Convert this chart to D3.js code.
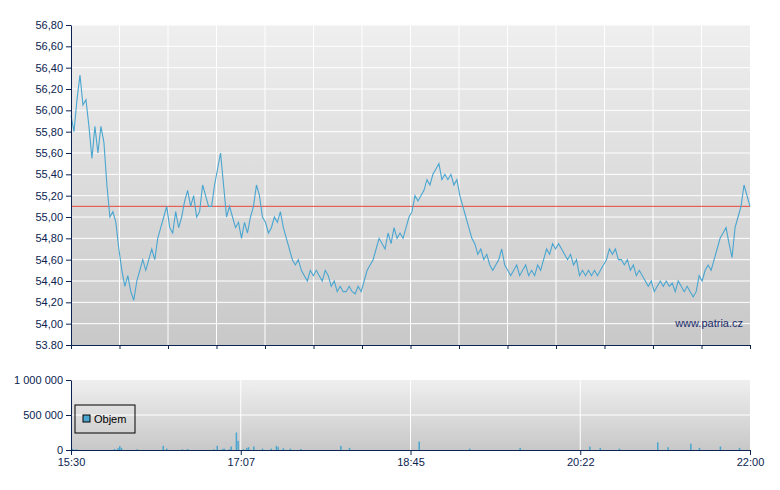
<!DOCTYPE html>
<html><head><meta charset="utf-8">
<script src="https://cdn.jsdelivr.net/npm/d3@7"></script>
<style>body{margin:0;background:#fff}svg{font-family:"Liberation Sans",Arial,sans-serif;font-size:11px}</style>
</head><body><div id="chart"></div>
<script>
// price samples, evenly spaced 15:30 -> 22:00
const prices = [55.95,55.8,56.1,56.33,56.05,56.1,55.85,55.55,55.85,55.6,55.85,55.7,55.3,
55.0,55.05,54.95,54.7,54.5,54.35,54.45,54.3,54.22,54.4,54.5,54.6,54.5,54.6,54.7,54.6,54.8,54.9,55.0,55.1,54.9,54.85,55.05,54.9,55.0,55.15,55.25,55.1,55.2,55.0,55.05,55.3,55.2,55.1,55.1,55.3,55.45,55.6,55.3,55.0,55.1,55.0,54.9,54.95,54.8,54.95,54.85,55.0,55.1,55.3,55.2,55.0,54.95,54.85,54.9,55.0,54.95,55.05,54.9,54.8,54.7,54.6,54.55,54.6,54.5,54.45,54.4,54.5,54.45,54.5,54.45,54.4,54.5,54.45,54.35,54.4,54.3,54.35,54.3,54.3,54.35,54.3,54.28,54.35,54.3,54.4,54.5,54.55,54.6,54.7,54.8,54.75,54.7,54.85,54.75,54.9,54.8,54.85,54.8,54.9,55.0,55.05,55.2,55.15,55.2,55.25,55.35,55.3,55.4,55.45,55.5,55.35,55.4,55.35,55.4,55.3,55.35,55.2,55.1,55.0,54.9,54.8,54.75,54.65,54.7,54.6,54.65,54.55,54.5,54.55,54.6,54.7,54.55,54.5,54.45,54.5,54.55,54.45,54.5,54.55,54.45,54.5,54.45,54.55,54.5,54.6,54.7,54.65,54.75,54.7,54.75,54.7,54.65,54.6,54.65,54.55,54.6,54.45,54.5,54.45,54.5,54.45,54.5,54.45,54.5,54.55,54.6,54.7,54.65,54.7,54.6,54.6,54.55,54.6,54.5,54.55,54.45,54.5,54.45,54.4,54.35,54.4,54.3,54.35,54.4,54.35,54.4,54.35,54.38,54.3,54.4,54.35,54.3,54.35,54.3,54.25,54.3,54.45,54.4,54.5,54.55,54.5,54.6,54.7,54.8,54.85,54.9,54.75,54.62,54.9,55.0,55.1,55.3,55.2,55.1];
const refPrice = 55.10;
const priceTicks = [53.8,54.0,54.2,54.4,54.6,54.8,55.0,55.2,55.4,55.6,55.8,56.0,56.2,56.4,56.6,56.8];
// volume: minutes after 15:30, shares
const volMinutes = [1,3,25,27,28,29,38,53,55,64,67,82,84,87,88,91,92,95,96,99,101,102,105,110,115,118,119,122,126,132,155,160,200,229,258,298,304,315,337,343,356,361,373,384];
const volValues = [15000,10000,15000,25000,55000,30000,10000,60000,20000,10000,15000,10000,60000,15000,20000,10000,50000,250000,130000,10000,30000,40000,50000,20000,20000,60000,40000,25000,20000,15000,60000,30000,120000,20000,30000,50000,30000,20000,110000,40000,90000,30000,50000,30000];
const volTicks = [0,500000,1000000];
const timeLabels = ["15:30","17:07","18:45","20:22","22:00"];

const W = 780, H = 490, L = 71, R = 750;
const axisCol = "#0a2350", lineCol = "#4aa6d0";
const svg = d3.select("#chart").append("svg").attr("width", W).attr("height", H);
const defs = svg.append("defs");
const grad = defs.append("linearGradient").attr("id", "bg").attr("x1", 0).attr("y1", 0).attr("x2", 0).attr("y2", 1);
grad.append("stop").attr("offset", "0%").attr("stop-color", "#efefef");
grad.append("stop").attr("offset", "100%").attr("stop-color", "#c8c8c8");

// price panel
const pTop = 25, pBot = 345;
const x = d3.scaleLinear().domain([0, prices.length - 1]).range([L, R]);
const y = d3.scaleLinear().domain([53.8, 56.8]).range([pBot, pTop]);
svg.append("rect").attr("x", L).attr("y", pTop).attr("width", R - L).attr("height", pBot - pTop).attr("fill", "url(#bg)");
const xg = d3.scaleLinear().domain([0, 14]).range([L, R]);
const g = svg.append("g");
g.selectAll(".hg").data(priceTicks.slice(1)).enter().append("line")
  .attr("x1", L).attr("x2", R).attr("y1", d => y(d)).attr("y2", d => y(d)).attr("stroke", "#fff");
g.selectAll(".vg").data(d3.range(1, 14)).enter().append("line")
  .attr("x1", d => xg(d)).attr("x2", d => xg(d)).attr("y1", pTop).attr("y2", pBot).attr("stroke", "#fff");
svg.append("line").attr("x1", L).attr("x2", R).attr("y1", y(refPrice)).attr("y2", y(refPrice)).attr("stroke", "#e8463a").attr("stroke-width", 1);
svg.append("path").datum(prices).attr("fill", "none").attr("stroke", lineCol).attr("stroke-width", 1.1)
  .attr("d", d3.line().x((d, i) => x(i)).y(d => y(d)));
svg.append("g").attr("transform", `translate(${L},0)`)
  .call(d3.axisLeft(y).tickValues(priceTicks).tickSize(5).tickSizeOuter(0)
    .tickFormat(d => d === 53.8 ? "53.80" : d3.format(".2f")(d).replace(".", ",")))
  .call(a => a.selectAll("line,path").attr("stroke", axisCol))
  .call(a => a.selectAll("text").attr("fill", axisCol).attr("font-size", 11));
svg.append("g").attr("transform", `translate(0,${pBot})`)
  .call(d3.axisBottom(xg).ticks(14).tickSize(4).tickSizeOuter(0).tickFormat(""))
  .call(a => a.selectAll("line,path").attr("stroke", axisCol));
svg.append("text").attr("x", 743).attr("y", 327).attr("text-anchor", "end").attr("fill", "#1a2d6a").attr("font-size", 11).text("www.patria.cz");

// volume panel
const vTop = 380, vBot = 450;
const xt = d3.scaleLinear().domain([0, 390]).range([L, R]);
const yv = d3.scaleLinear().domain([0, 1000000]).range([vBot, vTop]);
svg.append("rect").attr("x", L).attr("y", vTop).attr("width", R - L).attr("height", vBot - vTop).attr("fill", "url(#bg)");
svg.append("line").attr("x1", L).attr("x2", R).attr("y1", yv(500000)).attr("y2", yv(500000)).attr("stroke", "#fff");
svg.selectAll(".tv").data([97.5, 195, 292.5]).enter().append("line")
  .attr("x1", d => xt(d)).attr("x2", d => xt(d)).attr("y1", vTop).attr("y2", vBot).attr("stroke", "#fff");
svg.selectAll(".vb").data(volMinutes).enter().append("rect")
  .attr("x", d => xt(d) - 0.75).attr("width", 1.5)
  .attr("y", (d, i) => yv(volValues[i])).attr("height", (d, i) => vBot - yv(volValues[i])).attr("fill", lineCol);
svg.append("g").attr("transform", `translate(${L},0)`)
  .call(d3.axisLeft(yv).tickValues(volTicks).tickSize(5).tickSizeOuter(0)
    .tickFormat(d => d3.format(",")(d).replace(/,/g, " ")))
  .call(a => a.selectAll("line,path").attr("stroke", axisCol))
  .call(a => a.selectAll("text").attr("fill", axisCol).attr("font-size", 11));
svg.append("g").attr("transform", `translate(0,${vBot})`)
  .call(d3.axisBottom(xt).tickValues([0, 97.5, 195, 292.5, 390]).tickSize(5).tickSizeOuter(0)
    .tickFormat((d, i) => timeLabels[i]))
  .call(a => a.selectAll("line,path").attr("stroke", axisCol))
  .call(a => a.selectAll("text").attr("fill", axisCol).attr("font-size", 11));

// legend
const lg = svg.append("g").attr("transform", "translate(75,405)");
lg.append("rect").attr("width", 60).attr("height", 28).attr("fill", "none").attr("stroke", "#000");
lg.append("rect").attr("x", 8).attr("y", 10).attr("width", 7).attr("height", 7).attr("fill", lineCol).attr("stroke", "#000");
lg.append("text").attr("x", 19).attr("y", 18).attr("font-size", 11).attr("fill", "#000").text("Objem");
</script></body></html>
